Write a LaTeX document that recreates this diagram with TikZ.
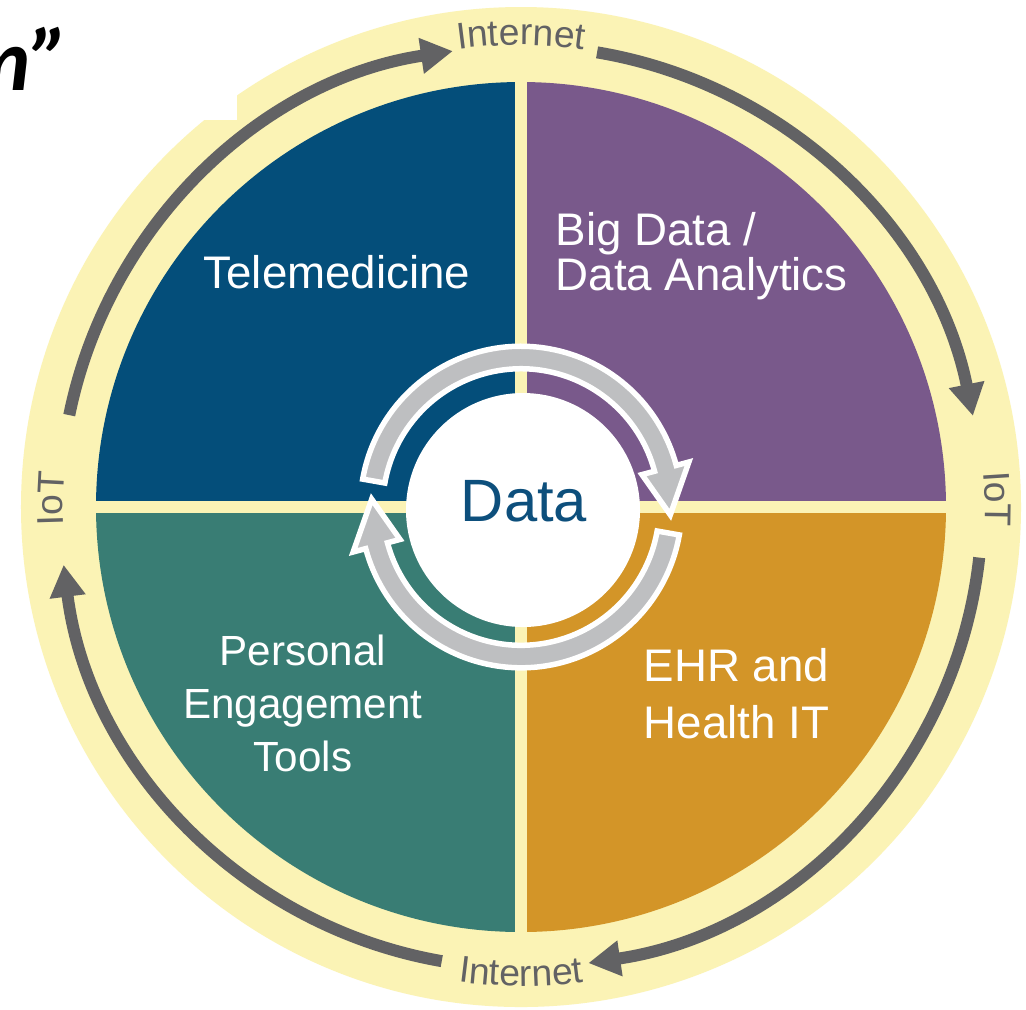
\documentclass[tikz,border=0pt]{standalone}
\usepackage{fontspec}
\setmainfont{Liberation Sans}
\newfontfamily\quotefont{Carlito}
\usetikzlibrary{arrows.meta,decorations.text}

\definecolor{ringyellow}{RGB}{251,243,181}
\definecolor{teleblue}{RGB}{4,78,122}
\definecolor{bigpurple}{RGB}{121,89,139}
\definecolor{toolteal}{RGB}{57,125,116}
\definecolor{ehrorange}{RGB}{211,149,40}
\definecolor{cyclegray}{RGB}{190,191,193}
\definecolor{ringgray}{RGB}{98,98,100}
\definecolor{datablue}{RGB}{13,79,124}

\newcommand{\ringfont}{\fontsize{10.6pt}{12pt}\selectfont}

\begin{document}
\begin{tikzpicture}[
    outarrow/.style={ringgray, line width=1.2mm, -{Triangle[length=3.2mm,width=3.4mm]}},
    cyclearrow/.style={fill=cyclegray, draw=white, line width=0.55mm, line join=miter},
    quadlabel/.style={white, inner sep=0pt, font=\fontsize{13pt}{12.8pt}\selectfont},
    ringlabel/.style={decorate, decoration={text along path, text align=center,
        text color=ringgray, text={|\ringfont|#1}}}
]
    \useasboundingbox (-5.21,-5.02) rectangle (5.05,5.07);
    \fill[white] (-5.21,-5.02) rectangle (5.05,5.07);

    % yellow ring
    \fill[ringyellow] (0,0) circle[radius=5.0];

    % four quadrants
    \begin{scope}
        \clip (0,0) circle[radius=4.25];
        \foreach \col/\sx/\sy in {teleblue/-1/1, bigpurple/1/1, toolteal/-1/-1, ehrorange/1/-1}
            \fill[\col] (\sx*0.06,\sy*0.06) rectangle (\sx*4.3,\sy*4.3);
    \end{scope}

    % outer ring arrows
    \foreach \a/\b in {168.5/98.5, 80.5/11.4, -6.3/-81.6, -99.9/-172.8}
        \draw[outarrow] (\a:4.61) arc[start angle=\a, end angle=\b, radius=4.61];

    \path[ringlabel=Internet] (105:4.62) arc[start angle=105, end angle=75, radius=4.62];
    \path[ringlabel=Internet] (-105:4.79) arc[start angle=-105, end angle=-75, radius=4.79];
    \path[ringlabel=IoT] (16:4.64) arc[start angle=16, end angle=-14, radius=4.64];
    \path[ringlabel=IoT] (194:4.58) arc[start angle=194, end angle=164, radius=4.58];

    % inner cycle arrows
    \foreach \r in {0,180}
        \filldraw[cyclearrow, rotate=\r] (170:1.6075) arc[start angle=170, end angle=15, radius=1.6075]
            -- (15:1.7375) -- (-3:1.495) -- (15:1.2525) -- (15:1.3825)
            arc[start angle=15, end angle=170, radius=1.3825] -- cycle;

    \node[circle, fill=white, minimum size=2.34cm, inner sep=0pt] (hub) at (0.02,-0.03) {};
    \node[datablue, inner sep=0pt, font=\fontsize{17pt}{20pt}\selectfont] (data) at (0.03,0.055) {Data};

    % quadrant labels
    \node[quadlabel] (tele) at (-1.84,2.345) {Telemedicine};
    \node[quadlabel, anchor=west, align=left] (bigdata) at (0.34,2.505) {Big Data /\\Data Analytics};
    \node[quadlabel, align=center, font=\fontsize{12pt}{15.1pt}\selectfont] (tools) at (-2.18,-1.96) {Personal\\Engagement\\Tools};
    \node[quadlabel, anchor=west, align=left, font=\fontsize{13pt}{16.2pt}\selectfont] (ehr) at (1.22,-1.865) {EHR and\\Health IT};

    % cut-off title in the corner
    \fill[white] (-5.21,5.07) rectangle (-2.84,3.87);
    \node[anchor=base east, inner sep=0pt, font=\quotefont\bfseries\itshape\fontsize{25pt}{30pt}\selectfont] (title) at (-4.51,4.17) {m”};
\end{tikzpicture}
\end{document}
